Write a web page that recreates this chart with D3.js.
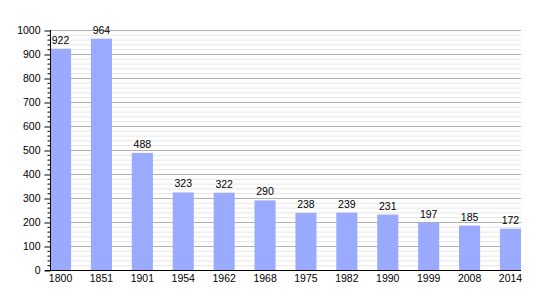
<!DOCTYPE html>
<html><head><meta charset="utf-8">
<script src="https://cdn.jsdelivr.net/npm/d3@7"></script>
<style>body{margin:0;background:#fff}svg{display:block}text{font-family:"Liberation Sans",Arial,sans-serif;font-size:10.5px;fill:#000}</style>
</head><body>
<script>
const years = ["1800","1851","1901","1954","1962","1968","1975","1982","1990","1999","2008","2014"];
const population = [922,964,488,323,322,290,238,239,231,197,185,172];
const yTicks = [0,100,200,300,400,500,600,700,800,900,1000];

const W = 550, H = 300;
const mLeft = 50, mRight = 521, mTop = 30, mBottom = 270;
const FS = 10.5;
const svg = d3.select("body").append("svg").attr("width", W).attr("height", H);

const x = d3.scaleBand().domain(years).range([mLeft, mRight]).paddingInner(0.485).paddingOuter(0).align(0);
const y = d3.scaleLinear().domain([0, 1000]).range([mBottom, mTop]);

// minor gridlines
const minor = d3.range(0, 1001, 20).filter(v => v % 100 !== 0);
svg.append("g").selectAll("line").data(minor).join("line")
  .attr("x1", mLeft).attr("x2", mRight)
  .attr("y1", d => y(d) + 0.5).attr("y2", d => y(d) + 0.5)
  .attr("stroke", "#e6e6e6").attr("stroke-width", 1);
// major gridlines
svg.append("g").selectAll("line").data(yTicks.filter(v => v > 0)).join("line")
  .attr("x1", mLeft).attr("x2", mRight)
  .attr("y1", d => y(d) + 0.5).attr("y2", d => y(d) + 0.5)
  .attr("stroke", "#b0b0b0").attr("stroke-width", 1);

// bars
svg.append("g").selectAll("rect").data(years).join("rect")
  .attr("x", d => x(d)).attr("width", x.bandwidth())
  .attr("y", (d, i) => y(population[i])).attr("height", (d, i) => y(0) - y(population[i]))
  .attr("fill", "#99aaff");

// value labels
svg.append("g").selectAll("text").data(years).join("text")
  .attr("x", d => x(d) + x.bandwidth() / 2)
  .attr("y", (d, i) => y(population[i]) - 5)
  .attr("text-anchor", "middle").text((d, i) => population[i]);

// y axis
const yAxis = svg.append("g").attr("transform", `translate(${mLeft + 0.5},0)`)
  .call(d3.axisLeft(y).tickValues(yTicks).tickSize(6).tickPadding(4).tickFormat(d3.format("d")));
yAxis.select(".domain").attr("d", `M0,${mTop}V${mBottom}`).attr("stroke", "#000");
yAxis.selectAll(".tick line").attr("stroke", "#000").attr("transform", "translate(0,0.5)");
yAxis.selectAll(".tick text").attr("font-size", FS).attr("font-family", "Liberation Sans, Arial, sans-serif").attr("fill", "#000");
yAxis.append("g").selectAll("line").data(minor).join("line")
  .attr("x1", -3).attr("x2", 0).attr("y1", d => y(d) + 0.5).attr("y2", d => y(d) + 0.5).attr("stroke", "#000");

// x axis
const xAxis = svg.append("g").attr("transform", `translate(0,${mBottom + 0.5})`)
  .call(d3.axisBottom(x).tickSize(0).tickPadding(4));
xAxis.select(".domain").attr("d", `M${mLeft - 5},0H${mRight}`).attr("stroke", "#000");
xAxis.selectAll(".tick text").attr("font-size", FS).attr("font-family", "Liberation Sans, Arial, sans-serif").attr("fill", "#000");
</script>
</body></html>
